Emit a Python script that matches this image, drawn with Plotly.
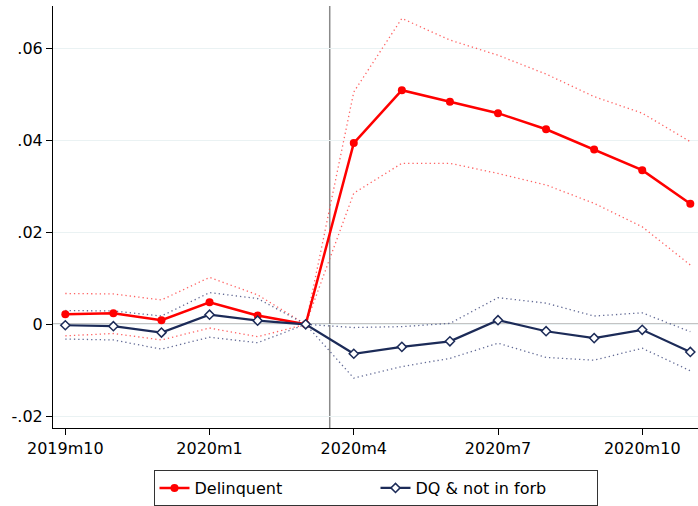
import plotly.graph_objects as go

# Months since 2019m10 (0 = 2019m10, 13 = 2020m11)
months = list(range(14))
tick_vals = [0, 3, 6, 9, 12]
tick_text = ["2019m10", "2020m1", "2020m4", "2020m7", "2020m10"]

y_tick_vals = [-0.02, 0, 0.02, 0.04, 0.06]
y_tick_text = ["-.02", "0", ".02", ".04", ".06"]

# Delinquent: point estimates and 95% bounds
delinquent = [0.0022, 0.0024, 0.0009, 0.0048, 0.0019, 0.0,
              0.0394, 0.0509, 0.0484, 0.0459, 0.0424, 0.0380, 0.0335, 0.0262]
delinquent_hi = [0.0067, 0.0066, 0.0053, 0.0102, 0.0064, 0.0,
                 0.0505, 0.0665, 0.0618, 0.0585, 0.0544, 0.0495, 0.0459, 0.0397]
delinquent_lo = [-0.0025, -0.0020, -0.0034, -0.0008, -0.0027, 0.0,
                 0.0285, 0.0350, 0.0350, 0.0328, 0.0303, 0.0263, 0.0212, 0.0129]

# DQ & not in forbearance: point estimates and 95% bounds
dq_nf = [-0.0002, -0.0004, -0.0018, 0.0021, 0.0008, 0.0,
         -0.0064, -0.0049, -0.0037, 0.0009, -0.0015, -0.0030, -0.0012, -0.0060]
dq_nf_hi = [0.0030, 0.0029, 0.0018, 0.0069, 0.0056, 0.0,
            -0.0007, -0.0005, 0.0002, 0.0058, 0.0046, 0.0018, 0.0025, -0.0016]
dq_nf_lo = [-0.0032, -0.0034, -0.0054, -0.0028, -0.0040, 0.0,
            -0.0117, -0.0092, -0.0074, -0.0041, -0.0072, -0.0078, -0.0052, -0.0101]

RED = "#ff0000"
NAVY = "#1c2b58"
FONT = "DejaVu Sans"

fig = go.Figure()

# Confidence bounds (fine dotted)
for arr, col in [(delinquent_hi, "rgba(255,70,70,0.85)"), (delinquent_lo, "rgba(255,70,70,0.85)"),
                 (dq_nf_hi, "rgba(70,80,130,0.85)"), (dq_nf_lo, "rgba(70,80,130,0.85)")]:
    fig.add_trace(go.Scatter(x=months, y=arr, mode="lines", showlegend=False,
                             hoverinfo="skip",
                             line=dict(color=col, width=1.3, dash="1.3px,3px")))

fig.add_trace(go.Scatter(
    x=months, y=delinquent, mode="lines+markers", name="Delinquent",
    line=dict(color=RED, width=2.5),
    marker=dict(symbol="circle", size=8, color=RED)))

fig.add_trace(go.Scatter(
    x=months, y=dq_nf, mode="lines+markers", name="DQ & not in forb",
    line=dict(color=NAVY, width=2.2),
    marker=dict(symbol="diamond", size=7, color="white",
                line=dict(color=NAVY, width=1.5))))

# Reference lines: zero and the break between 2020m3 and 2020m4
fig.add_shape(type="line", xref="x", yref="paper", x0=5.5, x1=5.5, y0=0, y1=1,
              line=dict(color="#8a8a8a", width=1.5), layer="below")
fig.add_shape(type="line", xref="paper", yref="y", x0=0, x1=1, y0=0, y1=0,
              line=dict(color="#8a8a8a", width=1.5), layer="below")

fig.update_layout(
    width=698, height=506,
    margin=dict(l=53, r=0, t=6, b=78),
    paper_bgcolor="white", plot_bgcolor="white",
    font=dict(family=FONT, size=16, color="black"),
    legend=dict(orientation="h", x=0.5, xanchor="center", y=-0.1, yanchor="top",
                bordercolor="#333", borderwidth=1, bgcolor="white",
                font=dict(family=FONT, size=16),
                entrywidth=176, entrywidthmode="pixels"),
    showlegend=True,
)

fig.update_xaxes(range=[-0.256, 13.16], tickvals=tick_vals, ticktext=tick_text,
                 showgrid=False, zeroline=False, showline=True, linecolor="black",
                 linewidth=1, ticks="outside", ticklen=6, tickcolor="black",
                 tickfont=dict(size=16))
fig.update_yaxes(range=[-0.02254, 0.0692], tickvals=y_tick_vals, ticktext=y_tick_text,
                 showgrid=True, gridcolor="#eaf2f3", gridwidth=1, zeroline=False,
                 showline=True, linecolor="black", linewidth=1, ticks="outside",
                 ticklen=6, tickcolor="black", tickfont=dict(size=16))

fig.write_html("out.html")
